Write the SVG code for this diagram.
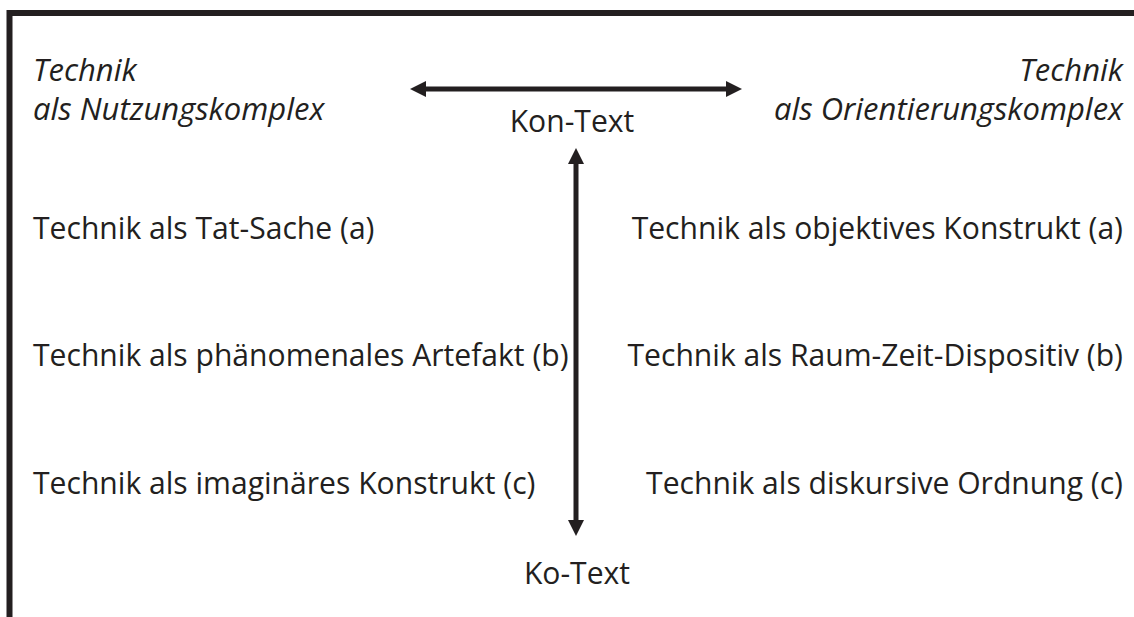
<svg xmlns="http://www.w3.org/2000/svg" width="1134" height="617" viewBox="0 0 1134 617">
  <defs>
    <style>
      .t { font-family: "Open Sans", "Liberation Sans", sans-serif; font-size: 30.1px; fill: #231f20; }
      .hd { font-style: italic; font-size: 31px; }
      .r { text-anchor: end; }
      .c { text-anchor: middle; }
      .ln { stroke: #231f20; stroke-width: 5; fill: none; }
    </style>
    <marker id="ah" viewBox="0 0 16 16" refX="1" refY="8" markerWidth="16" markerHeight="16" markerUnits="userSpaceOnUse" orient="auto-start-reverse">
      <path d="M0,0 L16,8 L0,16 Z" fill="#231f20"/>
    </marker>
  </defs>
  <rect width="1134" height="617" fill="#ffffff"/>

  <!-- frame: open at right and bottom -->
  <path d="M9.5,617 V13 H1134" stroke="#231f20" stroke-width="6" fill="none"/>

  <g id="head-left">
    <text class="t hd" x="33" y="81">Technik</text>
    <text class="t hd" x="33" y="120">als Nutzungskomplex</text>
  </g>
  <g id="head-right">
    <text class="t hd r" x="1123" y="81">Technik</text>
    <text class="t hd r" x="1123" y="120">als Orientierungskomplex</text>
  </g>
  <g id="kon-text">
    <text class="t c" x="572" y="132">Kon-Text</text>
  </g>
  <g id="ko-text">
    <text class="t c" x="577" y="584">Ko-Text</text>
  </g>

  <g id="left-a"><text class="t" x="33" y="239">Technik als Tat-Sache (a)</text></g>
  <g id="left-b"><text class="t" x="33" y="366">Technik als phänomenales Artefakt (b)</text></g>
  <g id="left-c"><text class="t" x="33" y="494">Technik als imaginäres Konstrukt (c)</text></g>

  <g id="right-a"><text class="t r" x="1123" y="239">Technik als objektives Konstrukt (a)</text></g>
  <g id="right-b"><text class="t r" x="1123" y="366">Technik als Raum-Zeit-Dispositiv (b)</text></g>
  <g id="right-c"><text class="t r" x="1123" y="494">Technik als diskursive Ordnung (c)</text></g>

  <g id="connectors">
    <line class="ln" x1="425" y1="89" x2="727" y2="89" marker-start="url(#ah)" marker-end="url(#ah)"/>
    <line class="ln" x1="576" y1="163" x2="576" y2="521" marker-start="url(#ah)" marker-end="url(#ah)"/>
  </g>
</svg>
